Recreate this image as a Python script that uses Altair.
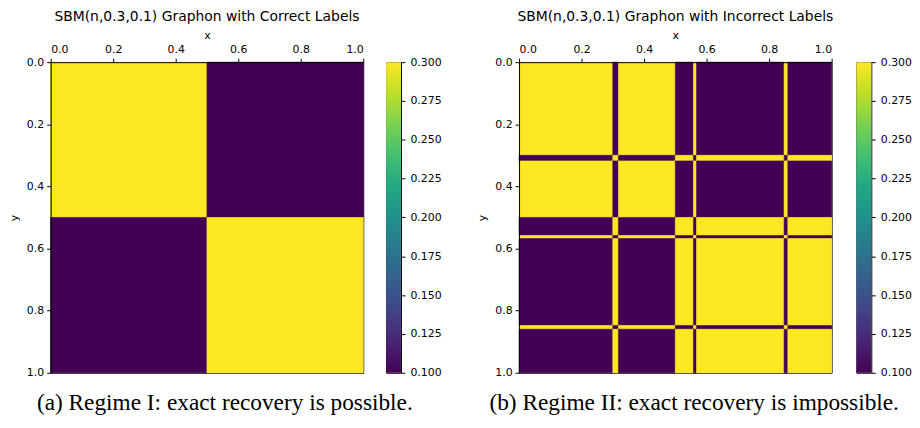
import altair as alt
import pandas as pd

# ---- data ----
P_IN = 0.3
P_OUT = 0.1
breaks_a = [0.0, 0.5, 1.0]
groups_a = [0, 1]
breaks_b = [0.0, 0.3, 0.318, 0.5, 0.558, 0.568, 0.848, 0.86, 1.0]
groups_b = [0, 1, 0, 1, 0, 1, 0, 1]
axis_ticks = [0.0, 0.2, 0.4, 0.6, 0.8, 1.0]
cbar_ticks = [0.1, 0.125, 0.15, 0.175, 0.2, 0.225, 0.25, 0.275, 0.3]
titles = ["SBM(n,0.3,0.1) Graphon with Correct Labels",
          "SBM(n,0.3,0.1) Graphon with Incorrect Labels"]
captions = ["(a) Regime I: exact recovery is possible.",
            "(b) Regime II: exact recovery is impossible."]
viridis = ["#440154", "#482475", "#414487", "#355f8d", "#2a788e", "#21918c",
           "#22a884", "#44bf70", "#7ad151", "#bddf26", "#fde725"]

FONT = "DejaVu Sans"
W, H = 315, 313


def cells(breaks, groups):
    rows = []
    for i in range(len(groups)):
        for j in range(len(groups)):
            rows.append(dict(x=breaks[i], x2=breaks[i + 1],
                             y=breaks[j], y2=breaks[j + 1],
                             v=P_IN if groups[i] == groups[j] else P_OUT))
    return pd.DataFrame(rows)


cscale = alt.Scale(domain=[cbar_ticks[0], cbar_ticks[-1]],
                   range=[viridis[0], viridis[-1]])


def heat(breaks, groups, title):
    return alt.Chart(cells(breaks, groups)).mark_rect(strokeWidth=0.6).encode(
        x=alt.X("x:Q", scale=alt.Scale(domain=[0, 1], nice=False, zero=False),
                axis=alt.Axis(orient="top", values=axis_ticks, format=".1f",
                              title="x", zindex=1, labelPadding=4,
                              titlePadding=3)),
        x2="x2:Q",
        y=alt.Y("y:Q", scale=alt.Scale(domain=[0, 1], nice=False, zero=False,
                                       reverse=True),
                axis=alt.Axis(orient="left", values=axis_ticks, format=".1f",
                              title="y", zindex=1, titlePadding=7)),
        y2="y2:Q",
        color=alt.Color("v:Q", scale=cscale, legend=None),
        stroke=alt.Stroke("v:Q", scale=cscale, legend=None),
    ).properties(width=W, height=H,
                 title=alt.TitleParams(title, fontSize=14, font=FONT,
                                       fontWeight="normal", color="black",
                                       anchor="middle", offset=5))


grad = alt.LinearGradient(
    gradient="linear",
    stops=[alt.GradientStop(color=c, offset=i / (len(viridis) - 1))
           for i, c in enumerate(viridis)],
    x1=0, x2=0, y1=1, y2=0)


def cbar():
    df = pd.DataFrame({"lo": [cbar_ticks[0]], "hi": [cbar_ticks[-1]]})
    return alt.Chart(df).mark_rect(color=grad).encode(
        x=alt.value(0), x2=alt.value(15),
        y=alt.Y("lo:Q", scale=alt.Scale(domain=[cbar_ticks[0], cbar_ticks[-1]],
                                        nice=False, zero=False),
                axis=alt.Axis(orient="right", values=cbar_ticks, format=".3f",
                              title=None, domain=False, labelPadding=5)),
        y2="hi:Q",
    ).properties(width=15, height=H)


def panel(breaks, groups, title, caption):
    return alt.hconcat(heat(breaks, groups, title), cbar(), spacing=21).properties(
        title=alt.TitleParams(caption, orient="bottom", fontSize=23.5,
                              font="Liberation Serif", fontWeight="normal",
                              color="black", anchor="middle", offset=13))


chart = alt.hconcat(
    panel(breaks_a, groups_a, titles[0], captions[0]),
    panel(breaks_b, groups_b, titles[1], captions[1]),
    spacing=35,
).properties(
    padding=0
).configure_view(
    stroke="black", strokeWidth=1
).configure_axis(
    labelFont=FONT, labelFontSize=11, labelColor="black",
    titleFont=FONT, titleFontSize=11, titleFontWeight="normal", titleColor="black",
    tickColor="black", tickSize=4, domainColor="black", labelPadding=3,
    grid=False,
)

chart.save("out.html", embed_options={"renderer": "svg", "actions": False})
